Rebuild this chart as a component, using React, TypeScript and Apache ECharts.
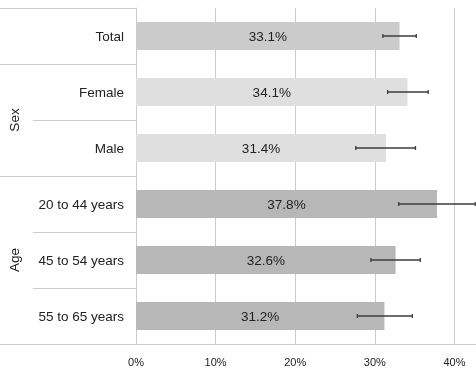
import React, { useEffect, useRef } from "react";
import * as echarts from "echarts";

const categories = ["Total", "Female", "Male", "20 to 44 years", "45 to 54 years", "55 to 65 years"];
const groups = ["", "Sex", "Sex", "Age", "Age", "Age"];
const values = [33.1, 34.1, 31.4, 37.8, 32.6, 31.2];
const lowers = [31.0, 31.6, 27.6, 33.0, 29.5, 27.8];
const uppers = [35.2, 36.7, 35.1, 42.6, 35.7, 34.7];
const xTicks = [0, 10, 20, 30, 40];

const groupColors: Record<string, string> = { "": "#cbcbcb", Sex: "#dfdfdf", Age: "#b7b7b7" };
const FONT = "'Liberation Sans', Arial, sans-serif";
const W = 476;
const H = 372;

export default function App() {
  const ref = useRef<HTMLDivElement>(null);
  useEffect(() => {
    if (!ref.current) return;
    const chart = echarts.init(ref.current, undefined, { renderer: "svg" });
    const option: any = {
      animation: false,
      textStyle: { fontFamily: FONT },
      grid: { left: 136, right: 0, top: 8, bottom: 28 },
      xAxis: {
        type: "value",
        min: 0,
        max: 42.7,
        interval: 10,
        axisLine: { show: false },
        axisTick: { show: false },
        axisLabel: {
          color: "#222",
          fontSize: 11,
          margin: 12,
          fontFamily: FONT,
          showMaxLabel: false,
          formatter: (v: number) => (xTicks.indexOf(v) >= 0 ? v + "%" : ""),
        },
        splitLine: { show: true, showMinLine: true, showMaxLine: false, lineStyle: { color: "#cccccc", width: 1 } },
      },
      yAxis: {
        type: "category",
        inverse: true,
        data: categories,
        axisLine: { show: true, lineStyle: { color: "#cccccc" } },
        axisTick: { show: false },
        axisLabel: { color: "#222", fontSize: 13.5, margin: 12, fontFamily: FONT },
        splitLine: { show: false },
      },
      series: [
        {
          type: "bar",
          barWidth: 28,
          data: values.map((v, i) => ({ value: v, itemStyle: { color: groupColors[groups[i]] } })),
          label: {
            show: true,
            position: "inside",
            color: "#222",
            fontSize: 13.5,
            fontFamily: FONT,
            formatter: (p: any) => p.value.toFixed(1) + "%",
          },
        },
        {
          type: "custom",
          clip: false,
          data: categories.map((c, i) => [i, lowers[i], uppers[i]]),
          encode: { y: 0, x: [1, 2] },
          renderItem: (params: any, api: any) => {
            const idx = api.value(0);
            const lo = api.coord([api.value(1), idx]);
            const hi = api.coord([api.value(2), idx]);
            const y = lo[1];
            const cap = 2;
            const st = { stroke: "#3c3c3c", lineWidth: 1.3 };
            return {
              type: "group",
              children: [
                { type: "line", shape: { x1: lo[0], y1: y, x2: hi[0], y2: y }, style: st },
                { type: "line", shape: { x1: lo[0], y1: y - cap, x2: lo[0], y2: y + cap }, style: st },
                { type: "line", shape: { x1: hi[0], y1: y - cap, x2: hi[0], y2: y + cap }, style: st },
              ],
            };
          },
          z: 5,
        },
      ],
    };
    chart.setOption(option);

    const centers = categories.map((_, i) => chart.convertToPixel({ yAxisIndex: 0 }, i) as number);
    const half = (centers[1] - centers[0]) / 2;
    const axisX = chart.convertToPixel({ xAxisIndex: 0 }, 0) as number;
    const lineStyle = { stroke: "#cccccc", lineWidth: 1 };
    const elements: any[] = [];
    const top = Math.round(centers[0] - half) + 0.5;
    elements.push({ type: "line", shape: { x1: 0, y1: top, x2: axisX, y2: top }, style: lineStyle });
    for (let i = 1; i < categories.length; i++) {
      const y = Math.round((centers[i - 1] + centers[i]) / 2) + 0.5;
      const startX = groups[i] === groups[i - 1] && groups[i] !== "" ? 33 : 0;
      elements.push({ type: "line", shape: { x1: startX, y1: y, x2: axisX, y2: y }, style: lineStyle });
    }
    const bottom = Math.round(centers[centers.length - 1] + half) + 0.5;
    elements.push({ type: "line", shape: { x1: 0, y1: bottom, x2: W, y2: bottom }, style: lineStyle });
    const uniq = Array.from(new Set(groups.filter((g) => g !== "")));
    uniq.forEach((g) => {
      const idxs = groups.map((gg, i) => (gg === g ? i : -1)).filter((i) => i >= 0);
      const cy = (centers[idxs[0]] + centers[idxs[idxs.length - 1]]) / 2;
      elements.push({
        type: "text",
        x: 14,
        y: cy,
        rotation: Math.PI / 2,
        style: { text: g, fill: "#222", font: `13.5px ${FONT}`, textAlign: "center", textVerticalAlign: "middle" },
      });
    });
    chart.setOption({ graphic: elements });

    return () => chart.dispose();
  }, []);
  return <div ref={ref} style={{ position: "fixed", left: 0, top: 0, width: W, height: H }} />;
}
